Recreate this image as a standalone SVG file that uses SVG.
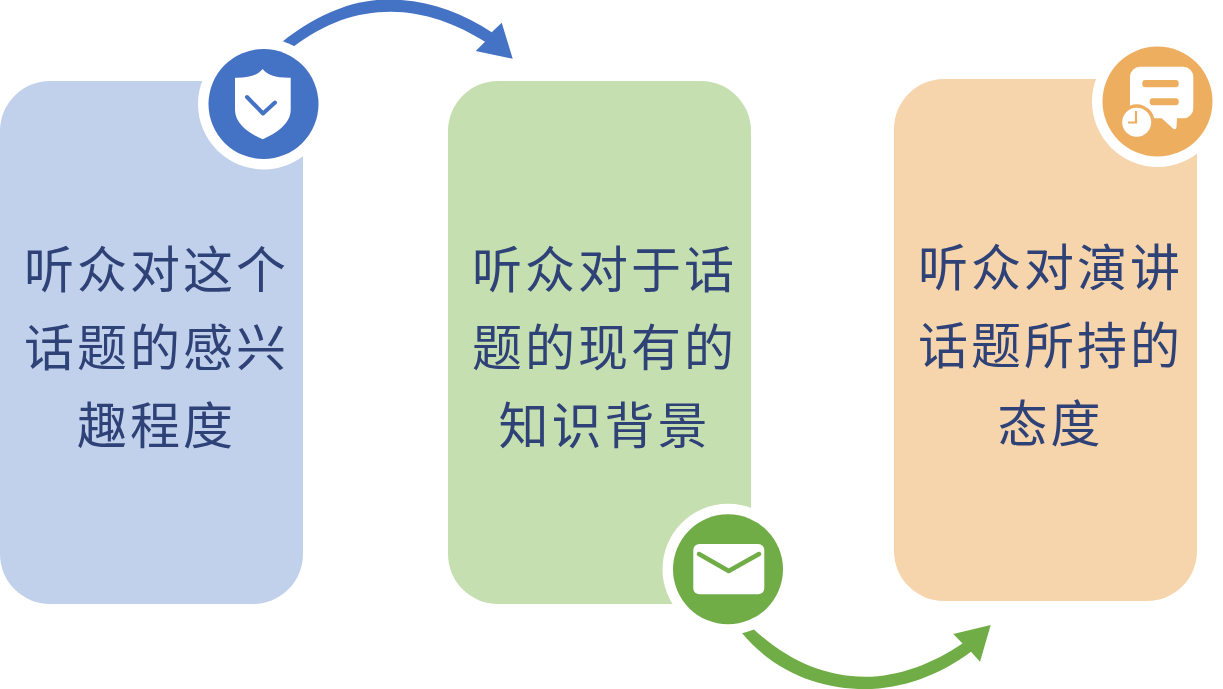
<svg xmlns="http://www.w3.org/2000/svg" width="1223" height="689" viewBox="0 0 1223 689">
<style>
.t{font-family:"Noto Sans CJK SC","Noto Sans",sans-serif;font-size:50px;letter-spacing:3px;fill:#2f4277;text-anchor:middle}
.ring{fill:#fff}
.w{fill:#fff}
</style>
<rect width="1223" height="689" fill="#fff"/>
<g id="connectors">
<path fill="#4472c4" d="M282.300 41.700C316 15 352 -0.500 388 -0.500C426 -0.500 461 12 491.700 32.300L501.700 22.700L512.700 58.700L475.700 51L485 41.700C457 24 424 11.700 391 11.700C356 11.700 325 23 293.300 46.700Z"/>
<path fill="#70ad47" d="M741.700 632.700C774 672 820 689 865 689C902 689 940 675 971 651.700L980 661.700L990.700 625L953.300 634L962.500 643.500C934 663 899 676.800 865 676.800C824 676.800 787 660 753.300 629Z"/>
</g>
<g id="node-interest">
<rect x="0" y="81" width="303" height="523" rx="50" fill="#c1d1eb"/>
<circle class="ring" cx="263.500" cy="104" r="65.500"/>
<circle cx="263.500" cy="104" r="55" fill="#4472c4"/>
<path class="w" d="M262.700 69C267 75 276 78 290.700 77.700V110C290.700 124 275 134 262.700 139.300C250 134 235 124 235 110V77.700C249 78 258 75 262.700 69Z"/>
<path d="M247 97L263 113.500L275 102.500" fill="none" stroke="#4472c4" stroke-width="4" stroke-linecap="round" stroke-linejoin="round"/>
<text class="t" x="156.500" y="288">听众对这个</text>
<text class="t" x="156.500" y="366">话题的感兴</text>
<text class="t" x="156.500" y="444">趣程度</text>
</g>
<g id="node-knowledge">
<rect x="448" y="81" width="303" height="523" rx="50" fill="#c6dfb0"/>
<circle class="ring" cx="728" cy="569.300" r="65.500"/>
<circle cx="728" cy="569.300" r="55" fill="#70ad47"/>
<rect class="w" x="693.300" y="544" width="71" height="50.300" rx="6"/>
<path d="M699 554L728.700 571L759 554" fill="none" stroke="#70ad47" stroke-width="4.500" stroke-linecap="round" stroke-linejoin="round"/>
<text class="t" x="604.500" y="288">听众对于话</text>
<text class="t" x="604.500" y="366">题的现有的</text>
<text class="t" x="604.500" y="444">知识背景</text>
</g>
<g id="node-attitude">
<rect x="894" y="79" width="303" height="522" rx="50" fill="#f6d4ac"/>
<circle class="ring" cx="1157.500" cy="101.500" r="65.500"/>
<circle cx="1157.500" cy="101.500" r="55" fill="#edae60"/>
<path class="w" d="M1140 66.700H1183.300A10 10 0 0 1 1193.300 76.700V108A10 10 0 0 1 1183.300 118.300H1177L1176.500 127Q1176 130.500 1173 128.500L1161.700 118.300H1130V76.700A10 10 0 0 1 1140 66.700Z"/>
<rect x="1142.300" y="80" width="36.400" height="7.300" rx="3" fill="#edae60"/>
<rect x="1149.700" y="98.300" width="29" height="7" rx="3" fill="#edae60"/>
<circle cx="1136.700" cy="122.300" r="18" fill="#edae60"/>
<circle class="w" cx="1136.700" cy="122.300" r="14.500"/>
<path d="M1136 111V122.500H1128" fill="none" stroke="#edae60" stroke-width="2.200"/>
<text class="t" x="1050.500" y="286">听众对演讲</text>
<text class="t" x="1050.500" y="364">话题所持的</text>
<text class="t" x="1050.500" y="442">态度</text>
</g>
</svg>
